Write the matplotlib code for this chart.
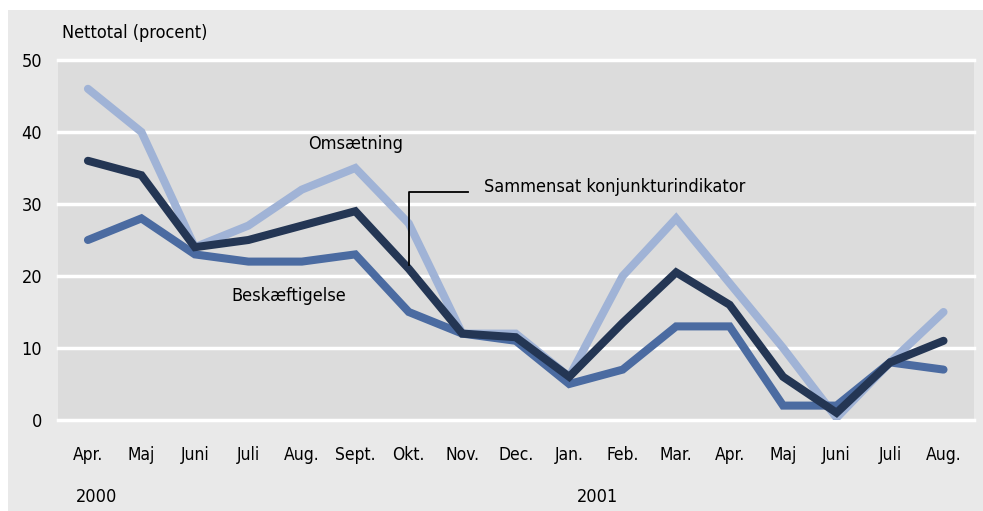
import numpy as np
import matplotlib.pyplot as plt
from matplotlib.patches import Rectangle

plt.rcParams['font.family'] = ['DejaVu Sans']
plt.rcParams['font.stretch'] = 'condensed'

months = ["Apr.", "Maj", "Juni", "Juli", "Aug.", "Sept.", "Okt.", "Nov.", "Dec.",
          "Jan.", "Feb.", "Mar.", "Apr.", "Maj", "Juni", "Juli", "Aug."]
omsaetning = [46, 40, 24, 27, 32, 35, 27.3, 12, 12, 6, 20, 28, 19, 10, 0.3, 8, 15]
samlet = [36, 34, 24, 25, 27, 29, 21, 12, 11.5, 6, 13.5, 20.5, 16, 6, 1, 8, 11]
beskaeftigelse = [25, 28, 23, 22, 22, 23, 15, 12, 11, 5, 7, 13, 13, 2, 2, 8, 7]
yticks = [0, 10, 20, 30, 40, 50]

W, H = 983, 511
fig = plt.figure(figsize=(W / 100, H / 100), dpi=100)
fig.patch.set_facecolor("white")
fig.patches.append(Rectangle((8 / W, 0), 1 - 8 / W, 1 - 10 / H, transform=fig.transFigure,
                             facecolor="#e9e9e9", edgecolor="none", zorder=-5))

x0, x1 = 58, 974
y0, y1 = 60, 420
ax = fig.add_axes([x0 / W, 1 - y1 / H, (x1 - x0) / W, (y1 - y0) / H])
ax.set_facecolor("#dcdcdc")
for s in ax.spines.values():
    s.set_visible(False)

x = np.arange(len(months))
ax.set_xlim(-0.56, 16.57)
ax.set_ylim(0, 50)
for t in yticks:
    ax.axhline(t, color="white", lw=2.5, zorder=1, clip_on=False)

lw = 5.8
ax.plot(x, omsaetning, color="#a0b3d6", lw=lw, solid_capstyle="round", solid_joinstyle="miter", zorder=3)
ax.plot(x, beskaeftigelse, color="#4b6ba1", lw=lw, solid_capstyle="round", solid_joinstyle="miter", zorder=4)
ax.plot(x, samlet, color="#243654", lw=lw, solid_capstyle="round", solid_joinstyle="miter", zorder=5)

ax.set_yticks(yticks)
ax.set_yticklabels([str(t) for t in yticks], fontsize=13)
ax.set_xticks(x)
ax.set_xticklabels(months, fontsize=12.5)
ax.tick_params(axis="both", length=0)
ax.tick_params(axis="y", pad=11.5)
ax.tick_params(axis="x", pad=19)

ax.text(5.0, 38.3, "Omsætning", fontsize=13, ha="center", va="center")
ax.text(3.76, 17.2, "Beskæftigelse", fontsize=13, ha="center", va="center")
ax.text(7.4, 32.3, "Sammensat konjunkturindikator", fontsize=13, ha="left", va="center")
ax.plot([6.0, 6.0, 7.1], [21.5, 31.7, 31.7], color="black", lw=1.3, zorder=6)

fig.text(62 / W, 1 - 33 / H, "Nettotal (procent)", fontsize=13, ha="left", va="center")
fig.text(97 / W, 1 - 497 / H, "2000", fontsize=13, ha="center", va="center")
fig.text(597 / W, 1 - 497 / H, "2001", fontsize=13, ha="center", va="center")

fig.savefig("out.png", dpi=100)
